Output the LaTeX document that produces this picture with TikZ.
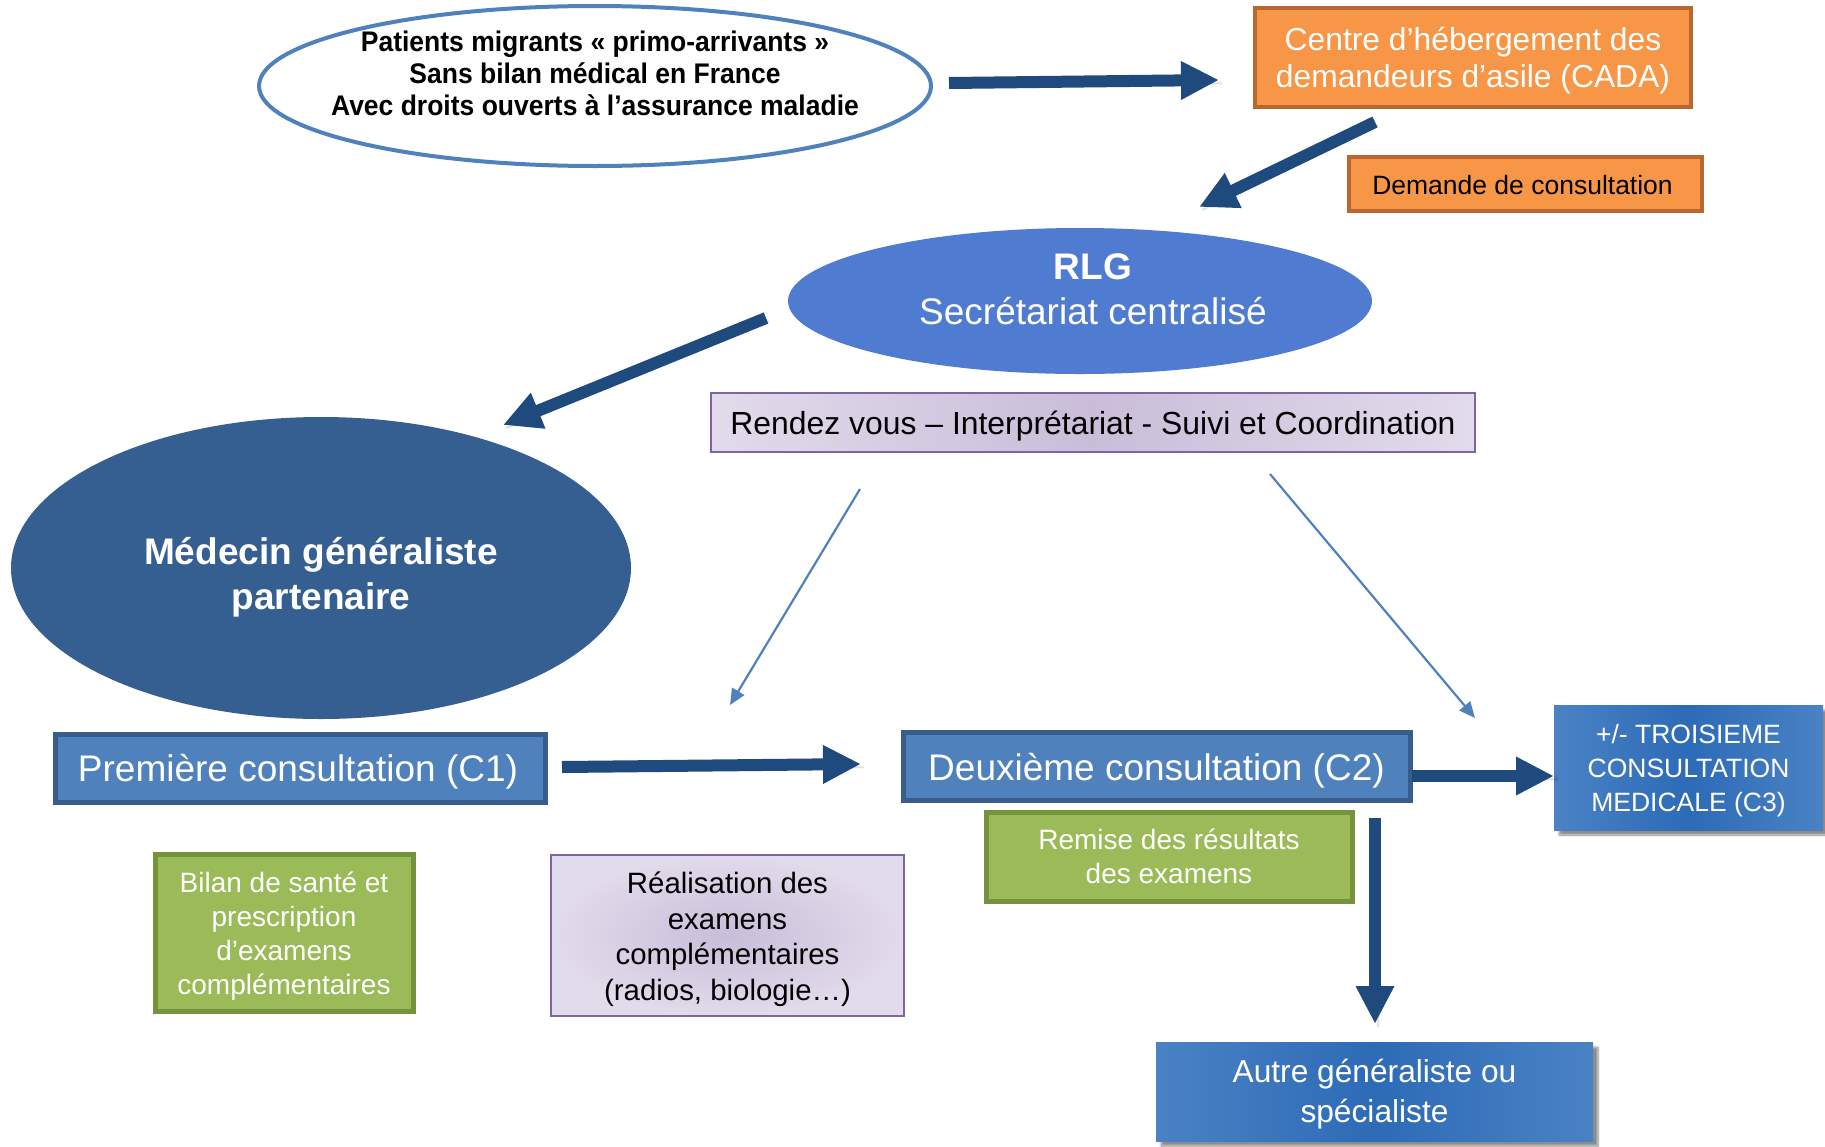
\documentclass[tikz,border=0pt]{standalone}
\usepackage{fontspec}
\setmainfont{Liberation Sans}
\usetikzlibrary{shapes.geometric,arrows.meta,calc,shadows.blur}
\definecolor{navy}{HTML}{1F4A7E}
\definecolor{steel}{HTML}{4F81BD}
\definecolor{steeldark}{HTML}{385D8A}
\definecolor{orangefill}{HTML}{F79646}
\definecolor{orangeline}{HTML}{B8672F}
\definecolor{rlgblue}{HTML}{4F7BD0}
\definecolor{medblue}{HTML}{365F91}
\definecolor{greenfill}{HTML}{9BBB59}
\definecolor{greenline}{HTML}{76923C}
\definecolor{purpleline}{HTML}{8064A2}
\definecolor{lavlight}{HTML}{E2DBEB}
\definecolor{lavdark}{HTML}{C9BDD9}
\definecolor{gradedge}{HTML}{4A82C4}
\definecolor{gradmid}{HTML}{2D6BB7}
\newcommand\fz[2]{\fontsize{#1}{#2}\selectfont}
\begin{document}
\begin{tikzpicture}[x=1pt,y=-1pt,
  every node/.style={inner sep=0pt,outer sep=0pt,align=center},
  bigarrow/.style={draw=navy,line width=12pt,-{Triangle[length=38pt,width=36pt]},
    blur shadow={shadow xshift=3pt,shadow yshift=-3pt,shadow blur steps=5,shadow opacity=25}},
  thinarrow/.style={draw=steel,line width=2.2pt,-{Triangle[length=16pt,width=14pt]}},
  orangebox/.style={rectangle,fill=orangefill,draw=orangeline,line width=4pt},
  consbox/.style={rectangle,fill=steel,draw=steeldark,line width=5pt},
  greenbox/.style={rectangle,fill=greenfill,draw=greenline,line width=5pt},
  gradbox/.style={rectangle,left color=gradedge,right color=gradedge,middle color=gradmid,
    blur shadow={shadow xshift=5pt,shadow yshift=-5pt,shadow blur steps=6,shadow opacity=45}},
  purplebox/.style={rectangle,draw=purpleline,line width=2pt},
  whitetext/.style={text=white},
  blacktext/.style={text=black}
]
\useasboundingbox (0,0) rectangle (1825,1146);

% shapes
\node[ellipse,draw=steel,line width=4pt,fill=white,minimum width=672pt,minimum height=160pt] (pat) at (595,86) {};
\node[orangebox,minimum width=436pt,minimum height=99pt] (cada) at (1473,57.5) {};
\node[orangebox,minimum width=353pt,minimum height=54pt] (dem) at (1525.5,184) {};
\node[ellipse,fill=rlgblue,minimum width=584pt,minimum height=146pt] (rlg) at (1080,301) {};
\node[purplebox,left color=lavlight,right color=lavlight,middle color=lavdark,minimum width=764pt,minimum height=59pt] (rdv) at (1093,422.5) {};
\node[ellipse,fill=medblue,minimum width=620pt,minimum height=302pt] (med) at (321,568) {};
\node[consbox,minimum width=490pt,minimum height=68pt] (c1) at (300,768) {};
\node[consbox,minimum width=507pt,minimum height=68pt] (c2) at (1156.5,766) {};
\node[gradbox,minimum width=269pt,minimum height=125pt] (c3) at (1688.5,767.5) {};
\node[greenbox,minimum width=366pt,minimum height=89pt] (rem) at (1169,856.5) {};
\node[gradbox,minimum width=437pt,minimum height=99pt] (autre) at (1374.5,1091.5) {};
\node[greenbox,minimum width=258pt,minimum height=157pt] (bilan) at (284,932.5) {};
\node[purplebox,shading=radial,inner color=lavdark,outer color=lavlight,minimum width=353pt,minimum height=161pt] (real) at (727.5,935.5) {};

% texts
\node[blacktext,font=\bfseries\fz{26.5}{32}] (pattxt) at ($(pat.center)+(0,-12.5)$)
  {\scalebox{1}[1.07]{Patients migrants « primo-arrivants »}\\\scalebox{1}[1.07]{Sans bilan médical en France}\\\scalebox{1}[1.07]{Avec droits ouverts à l’assurance maladie}};
\node[whitetext,font=\fz{31.8}{37}] (cadatxt) at ($(cada.center)+(0,3.5)$) {Centre d’hébergement des\\demandeurs d’asile (CADA)};
\node[blacktext,font=\fz{26.5}{32}] (demtxt) at ($(dem.center)+(-3,1)$) {Demande de consultation};
\node[whitetext,font=\fz{37}{45}] (rlgtxt) at ($(rlg.center)+(13,-12)$) {\textbf{RLG}\\Secrétariat centralisé};
\node[blacktext,font=\fz{31.9}{38}] (rdvtxt) at ($(rdv.center)+(0,3.5)$) {Rendez vous – Interprétariat - Suivi et Coordination};
\node[whitetext,font=\bfseries\fz{37}{45}] (medtxt) at ($(med.center)+(0,9)$) {Médecin généraliste\\partenaire};
\node[whitetext,font=\fz{37}{44}] (c1txt) at ($(c1.center)+(-2,4)$) {Première consultation (C1)};
\node[whitetext,font=\fz{37}{44}] (c2txt) at ($(c2.center)+(0,4.5)$) {Deuxième consultation (C2)};
\node[whitetext,font=\fz{26.5}{34}] (c3txt) at ($(c3.center)+(0,3.5)$) {+/- TROISIEME\\CONSULTATION\\MEDICALE (C3)};
\node[whitetext,font=\fz{28}{34}] (remtxt) at ($(rem.center)+(0,0)$) {Remise des résultats\\des examens};
\node[whitetext,font=\fz{31.7}{39.5}] (autretxt) at ($(autre.center)+(0,2.5)$) {Autre généraliste ou\\spécialiste};
\node[whitetext,font=\fz{28}{34}] (bilantxt) at ($(bilan.center)+(0,3.5)$) {Bilan de santé et\\prescription\\d’examens\\complémentaires};
\node[blacktext,font=\fz{29.4}{35.5}] (realtxt) at ($(real.center)+(0,3.5)$) {Réalisation des\\examens\\complémentaires\\(radios, biologie…)};

% connectors
\draw[bigarrow] ($(pat.east)+(18,-3)$) -- ($(cada.west)+(-36,22.5)$);
\draw[bigarrow] ($(cada.south)+(-98,15)$) -- ($(rlg.north)+(119,-21)$);
\draw[bigarrow] ($(rlg.west)+(-22,17)$) -- ($(med.north)+(182,8)$);
\draw[bigarrow] ($(c1.east)+(17,-1)$) -- ($(c2.west)+(-42,-2)$);
\draw[bigarrow] ($(c2.east)+(2,10)$) -- ($(c3.west)+(0,8.5)$);
\draw[bigarrow] ($(c2.south east)+(-35,18)$) -- ($(autre.north)+(0.5,-18)$);
\draw[thinarrow] ($(rdv.south west)+(149,37)$) -- ($(real.north)+(2.5,-150)$);
\draw[thinarrow] ($(rdv.south east)+(-205,22)$) -- ($(c3.north west)+(-79,13)$);
\end{tikzpicture}
\end{document}
